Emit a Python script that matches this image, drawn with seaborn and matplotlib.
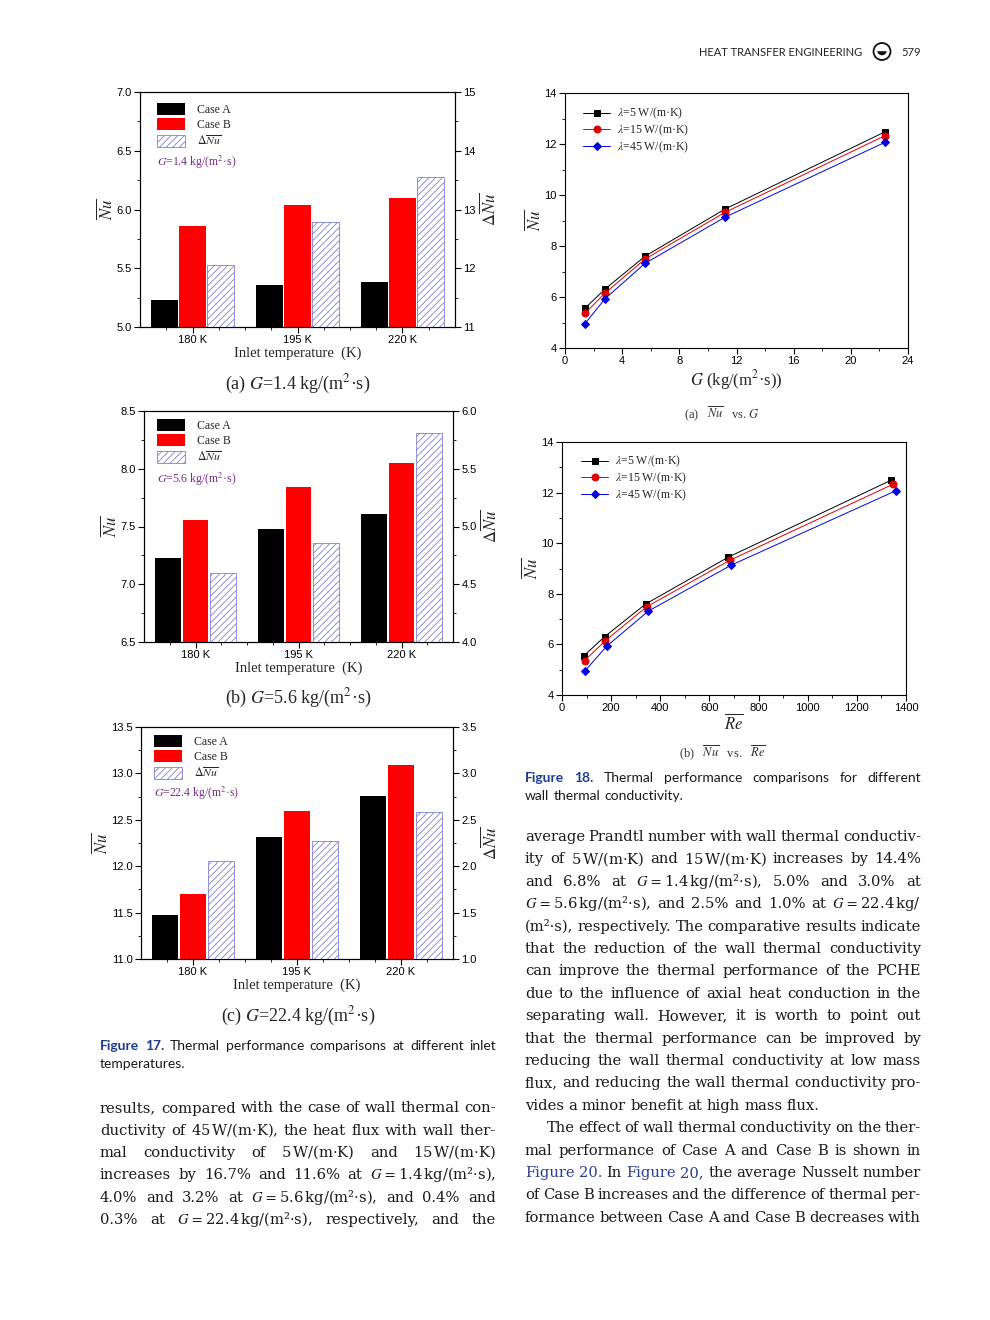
import matplotlib
matplotlib.use("Agg")
import pandas as pd
import matplotlib.pyplot as plt
import matplotlib.patches as mpatches
from matplotlib.ticker import MultipleLocator, FixedLocator
import seaborn as sns

# ---- datos ----
temps = ["180 K", "195 K", "220 K"]

nu_a_g14 = [5.23, 5.36, 5.38]
nu_b_g14 = [5.86, 6.04, 6.10]
dnu_g14 = [12.05, 12.78, 13.56]

nu_a_g56 = [7.23, 7.48, 7.61]
nu_b_g56 = [7.56, 7.84, 8.05]
dnu_g56 = [4.60, 4.86, 5.81]

nu_a_g224 = [11.47, 12.31, 12.76]
nu_b_g224 = [11.70, 12.59, 13.09]
dnu_g224 = [2.06, 2.27, 2.58]

G_vals = [1.4, 2.8, 5.6, 11.2, 22.4]
nu_lam5 = [5.56, 6.31, 7.60, 9.45, 12.48]
nu_lam15 = [5.36, 6.15, 7.49, 9.32, 12.33]
nu_lam45 = [4.96, 5.93, 7.32, 9.13, 12.07]
re_lam5 = [90, 174, 341, 677, 1337]
re_lam15 = [92, 177, 345, 682, 1347]
re_lam45 = [94, 182, 352, 688, 1358]
lam_labels = [r"$\lambda$=5 W/(m·K)", r"$\lambda$=15 W/(m·K)", r"$\lambda$=45 W/(m·K)"]

sns.set_theme(style="ticks", rc={"axes.linewidth": 0.8, "axes.edgecolor": "black",
                                 "xtick.color": "black", "ytick.color": "black",
                                 "hatch.linewidth": 0.6, "hatch.color": "#7f7fd5"})
plt.rcParams["font.family"] = ["Liberation Sans", "DejaVu Sans"]
plt.rcParams["mathtext.fontset"] = "stix"

W, H = 990, 1320
fig = plt.figure(figsize=(W / 100, H / 100), dpi=100)
R = fig.canvas.get_renderer()
SERIF = "Liberation Serif"
BODY = "DejaVu Serif"
HATCH_COL = "#7f7fd5"
DLAB = "dNu"
hue_levels = ["Case A", "Case B", DLAB]
pal = {"Case A": "black", "Case B": "#ff0000", DLAB: "white"}


def fy(y):
    return 1 - y / H


def px_axes(x0, y0, x1, y1):
    return fig.add_axes([x0 / W, 1 - y1 / H, (x1 - x0) / W, (y1 - y0) / H])


def bar_panel(box, nu_a, nu_b, dnu, ylim, ystep, ylim2, ystep2, leg_xy, gtxt, g_y, cap, cap_y):
    ax = px_axes(*box)
    df = pd.DataFrame({"temp": temps * 2, "case": ["Case A"] * 3 + ["Case B"] * 3,
                       "nu": nu_a + nu_b})
    sns.barplot(data=df, x="temp", y="nu", hue="case", hue_order=hue_levels, order=temps,
                palette=pal, saturation=1, dodge=True, gap=0.06, legend=False,
                edgecolor="none", ax=ax)
    ax2 = ax.twinx()
    dd = pd.DataFrame({"temp": temps, "case": [DLAB] * 3, "nu": dnu})
    sns.barplot(data=dd, x="temp", y="nu", hue="case", hue_order=hue_levels, order=temps,
                palette=pal, saturation=1, dodge=True, gap=0.06, legend=False, ax=ax2)
    for p in ax2.patches:
        p.set_facecolor("white")
        p.set_edgecolor(HATCH_COL)
        p.set_hatch("/////")
        p.set_linewidth(0.6)
    ax.set_xlim(-0.5, 2.5)
    ax.set_ylim(*ylim)
    ax2.set_ylim(*ylim2)
    ax.yaxis.set_major_locator(MultipleLocator(ystep))
    ax.yaxis.set_minor_locator(MultipleLocator(ystep / 2))
    ax2.yaxis.set_major_locator(MultipleLocator(ystep2))
    ax2.yaxis.set_minor_locator(MultipleLocator(ystep2 / 2))
    ax.xaxis.set_minor_locator(FixedLocator([-0.25, 0.25, 0.5, 0.75, 1.25, 1.5, 1.75, 2.25]))
    for a in (ax, ax2):
        a.tick_params(which="major", direction="out", length=4, width=0.8, labelsize=8, pad=2)
        a.tick_params(which="minor", direction="out", length=2.5, width=0.6)
    ax.set_xlabel("Inlet temperature  (K)", family=SERIF, fontsize=10.5, labelpad=1)
    ax.set_ylabel(r"$\overline{Nu}$", fontsize=12, labelpad=1)
    ax2.set_ylabel(r"$\Delta\overline{Nu}$", fontsize=12, labelpad=2)
    handles = [mpatches.Patch(facecolor="black", edgecolor="none", label="Case A"),
               mpatches.Patch(facecolor="#ff0000", edgecolor="none", label="Case B"),
               mpatches.Patch(facecolor="white", edgecolor=HATCH_COL, hatch="/////",
                              linewidth=0.6, label=r"$\Delta\overline{Nu}$")]
    x0, y0, x1, y1 = box
    ax2.legend(handles=handles, loc="upper left",
               bbox_to_anchor=((leg_xy[0] - x0) / (x1 - x0), 1 - (leg_xy[1] - y0) / (y1 - y0)),
               frameon=False, prop={"family": SERIF, "size": 8.5}, handlelength=2.4,
               handleheight=1.2, handletextpad=1.0, labelspacing=0.2, borderpad=0,
               borderaxespad=0)
    ax2.text((leg_xy[0] - x0) / (x1 - x0), 1 - (g_y - y0) / (y1 - y0), gtxt,
             transform=ax2.transAxes, family=SERIF, fontsize=8.5, color="#7b2a8c",
             va="baseline")
    fig.text(298 / W, fy(cap_y), cap, ha="center", va="baseline", family=SERIF, fontsize=13)


bar_panel((140, 92, 455, 327), nu_a_g14, nu_b_g14, dnu_g14, (5.0, 7.0), 0.5, (11, 15), 1,
          (157, 103), r"$G$=1.4 kg/(m$^2$·s)", 166, r"(a) $G$=1.4 kg/(m$^2$·s)", 389)
bar_panel((144, 411, 453, 642), nu_a_g56, nu_b_g56, dnu_g56, (6.5, 8.5), 0.5, (4.0, 6.0), 0.5,
          (157, 419), r"$G$=5.6 kg/(m$^2$·s)", 483, r"(b) $G$=5.6 kg/(m$^2$·s)", 703)
bar_panel((141, 727, 453, 959), nu_a_g224, nu_b_g224, dnu_g224, (11.0, 13.5), 0.5, (1.0, 3.5), 0.5,
          (154, 735), r"$G$=22.4 kg/(m$^2$·s)", 797, r"(c) $G$=22.4 kg/(m$^2$·s)", 1021)


def line_panel(box, xs_list, xlim, xstep, xlabel, leg_xy, cap, cap_y, xlab_pad):
    ax = px_axes(*box)
    for xs, ys, col, mk, ms, lab in zip(xs_list, [nu_lam5, nu_lam15, nu_lam45],
                                        ["black", "#e00000", "#0000e0"], ["s", "o", "D"],
                                        [4.5, 5, 4.5], lam_labels):
        sns.lineplot(x=xs, y=ys, ax=ax, color=col, marker=mk, markersize=ms,
                     markeredgecolor=col, linewidth=0.7, label=lab, sort=False)
    ax.set_xlim(*xlim)
    ax.set_ylim(4, 14)
    ax.xaxis.set_major_locator(MultipleLocator(xstep))
    ax.xaxis.set_minor_locator(MultipleLocator(xstep / 2))
    ax.yaxis.set_major_locator(MultipleLocator(2))
    ax.yaxis.set_minor_locator(MultipleLocator(1))
    ax.tick_params(which="major", direction="out", length=4, width=0.8, labelsize=8, pad=2)
    ax.tick_params(which="minor", direction="out", length=2.5, width=0.6)
    ax.set_xlabel(xlabel, family=SERIF, fontsize=12, labelpad=xlab_pad)
    ax.set_ylabel(r"$\overline{Nu}$", fontsize=12, labelpad=1)
    x0, y0, x1, y1 = box
    ax.legend(loc="upper left",
              bbox_to_anchor=((leg_xy[0] - x0) / (x1 - x0), 1 - (leg_xy[1] - y0) / (y1 - y0)),
              frameon=False, prop={"family": SERIF, "size": 8.5}, handlelength=2.3,
              handletextpad=0.6, labelspacing=0.12, borderpad=0, borderaxespad=0)
    fig.text(722 / W, fy(cap_y), cap, ha="center", va="baseline", family=SERIF,
             fontsize=9, color="#333333")


line_panel((565, 93, 908, 348), [G_vals] * 3, (0, 24), 4, r"$G$ (kg/(m$^2$·s))", (583, 106),
           r"(a)   $\overline{Nu}$   vs. $G$", 418, 1)
line_panel((562, 442, 906, 695), [re_lam5, re_lam15, re_lam45], (0, 1400), 200,
           r"$\overline{Re}$", (581, 454), r"(b)   $\overline{Nu}$   vs.   $\overline{Re}$", 757, 0)


# ---- texto da pagina ----
def tok_props(tok, color):
    weight = "normal"
    if tok.startswith("@"):
        tok, color = tok[1:], "#2b3d8f"
    elif tok.startswith("*"):
        tok, color, weight = tok[1:], "#1f3c94", "bold"
    return tok, color, weight


def measure(tokens, size, family):
    ws = []
    for tok in tokens:
        s, c, wgt = tok_props(tok, "k")
        t = fig.text(0, 0, s, fontsize=size, family=family, weight=wgt)
        ws.append(t.get_window_extent(R).width)
        t.remove()
    return ws


def fit_size(lines, avail, size, family):
    while size > 5:
        if all(sum(ws) + 0.22 * size * 100 / 72 * (len(ws) - 1) <= avail
               for ws in (measure(toks, size, family) for toks in lines)):
            return size
        size -= 0.2
    return size


def put_line(tokens, x0, x1, yb, size, family, justify=True, color="#1a1a1a"):
    ws = measure(tokens, size, family)
    gap = 0.3 * size * 100 / 72
    if justify and len(ws) > 1:
        gap = (x1 - x0 - sum(ws)) / (len(ws) - 1)
    x = x0
    for tok, w in zip(tokens, ws):
        s, c, wgt = tok_props(tok, color)
        fig.text(x / W, fy(yb), s, fontsize=size, family=family, weight=wgt, color=c,
                 va="baseline", ha="left")
        x += w + gap


TS = r"$\,$"


def geq(v):
    return r"$G\,=\,$" + v + TS + "kg/(m²·s)"


left_lines = [
    "results, compared with the case of wall thermal con-".split(),
    ["ductivity", "of", "45" + TS + "W/(m·K),", "the", "heat", "flux", "with", "wall", "ther-"],
    ["mal", "conductivity", "of", "5" + TS + "W/(m·K)", "and", "15" + TS + "W/(m·K)"],
    ["increases", "by", "16.7%", "and", "11.6%", "at", geq("1.4") + ","],
    ["4.0%", "and", "3.2%", "at", geq("5.6") + ",", "and", "0.4%", "and"],
    ["0.3%", "at", geq("22.4") + ",", "respectively,", "and", "the"],
]
right_lines = [
    "average Prandtl number with wall thermal conductiv-".split(),
    ["ity", "of", "5" + TS + "W/(m·K)", "and", "15" + TS + "W/(m·K)", "increases", "by", "14.4%"],
    ["and", "6.8%", "at", geq("1.4") + ",", "5.0%", "and", "3.0%", "at"],
    [geq("5.6") + ",", "and", "2.5%", "and", "1.0%", "at", r"$G\,=\,$22.4" + TS + "kg/"],
    ["(m²·s),", "respectively.", "The", "comparative", "results", "indicate"],
    "that the reduction of the wall thermal conductivity".split(),
    "can improve the thermal performance of the PCHE".split(),
    "due to the influence of axial heat conduction in the".split(),
    "separating wall. However, it is worth to point out".split(),
    "that the thermal performance can be improved by".split(),
    "reducing the wall thermal conductivity at low mass".split(),
    "flux, and reducing the wall thermal conductivity pro-".split(),
    "vides a minor benefit at high mass flux.".split(),
    "The effect of wall thermal conductivity on the ther-".split(),
    "mal performance of Case A and Case B is shown in".split(),
    "@Figure @20. In @Figure @20, the average Nusselt number".split(),
    "of Case B increases and the difference of thermal per-".split(),
    "formance between Case A and Case B decreases with".split(),
]

body_size = fit_size(left_lines + right_lines, 396, 11, BODY)
for i, toks in enumerate(left_lines):
    put_line(toks, 100, 496, 1112.5 + 22.3 * i, body_size, BODY)
for i, toks in enumerate(right_lines):
    x0 = 547 if i == 13 else 525
    put_line(toks, x0, 921, 841 + 22.4 * i, body_size, BODY, justify=(i != 12))

CAP = "Lato"
cap17 = [["*Figure", "*17."] + "Thermal performance comparisons at different inlet".split(),
         ["temperatures."]]
cap18 = [["*Figure", "*18."] + "Thermal performance comparisons for different".split(),
         "wall thermal conductivity.".split()]
cap_size = fit_size([cap17[0], cap18[0]], 396, 10, CAP)
put_line(cap17[0], 100, 496, 1050.5, cap_size, CAP)
put_line(cap17[1], 100, 496, 1068.5, cap_size, CAP, justify=False)
put_line(cap18[0], 525, 921, 781.5, cap_size, CAP)
put_line(cap18[1], 525, 921, 800, cap_size, CAP, justify=False)

# cabecalho
fig.text(862 / W, fy(56), "HEAT TRANSFER ENGINEERING", ha="right", va="baseline",
         family=CAP, fontsize=8, color="#222222")
fig.text(901 / W, fy(56), "579", ha="left", va="baseline", family=CAP, fontsize=8,
         color="#222222")
fig.add_artist(mpatches.Circle((8.82, 13.2 - 0.515), 0.085, transform=fig.dpi_scale_trans,
                               facecolor="white", edgecolor="#111111", linewidth=1.3))
fig.add_artist(mpatches.Wedge((8.82, 13.2 - 0.505), 0.055, 180, 360,
                              transform=fig.dpi_scale_trans, facecolor="#111111"))

fig.savefig("out.png", dpi=100, facecolor="white")
